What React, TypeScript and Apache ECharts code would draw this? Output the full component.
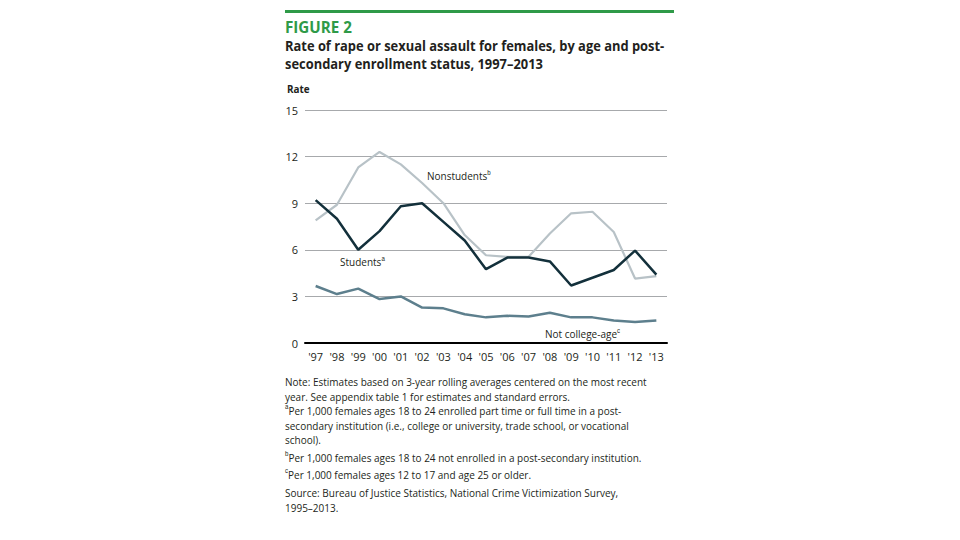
import React, { useEffect, useRef } from "react";
import * as echarts from "echarts";

const years = ["'97", "'98", "'99", "'00", "'01", "'02", "'03", "'04", "'05", "'06", "'07", "'08", "'09", "'10", "'11", "'12", "'13"];
const students = [9.2, 8.0, 6.0, 7.2, 8.8, 9.0, 7.8, 6.6, 4.75, 5.5, 5.5, 5.25, 3.7, 4.2, 4.7, 5.95, 4.4];
const nonstudents = [7.9, 8.9, 11.3, 12.3, 11.5, 10.3, 9.0, 6.95, 5.65, 5.55, 5.55, 7.05, 8.35, 8.45, 7.15, 4.15, 4.3];
const notCollegeAge = [3.67, 3.15, 3.5, 2.83, 3.0, 2.28, 2.23, 1.85, 1.65, 1.75, 1.7, 1.95, 1.65, 1.65, 1.45, 1.35, 1.45];
const yTicks = [0, 3, 6, 9, 12, 15];

const noteLines = [
  "Note: Estimates based on 3-year rolling averages centered on the most recent",
  "year. See appendix table 1 for estimates and standard errors.",
];

const FONT = "'Open Sans', sans-serif";
const GREEN = "#2f9a48";
const TXT = "#231f20";

export default function App() {
  const ref = useRef<HTMLDivElement>(null);
  useEffect(() => {
    if (!ref.current) return;
    const chart = echarts.init(ref.current, null, { renderer: "svg" });
    const small = 11.5;
    const nsx = 0.87;
    const sup = { fontSize: 7, verticalAlign: "top" as const, padding: [0, 0, 5, 0] };
    chart.setOption({
      animation: false,
      backgroundColor: "#ffffff",
      textStyle: { fontFamily: FONT },
      grid: { left: 305, right: 293, top: 110, bottom: 197 },
      xAxis: {
        type: "category",
        data: years,
        boundaryGap: true,
        axisLine: { show: true, lineStyle: { color: "#000", width: 2 } },
        axisTick: { show: false },
        axisLabel: { color: TXT, fontSize: 11, fontFamily: FONT, margin: 8 },
      },
      yAxis: {
        type: "value",
        min: 0,
        max: 15,
        interval: 3,
        axisLine: { show: false },
        axisTick: { show: false },
        splitLine: { lineStyle: { color: "#a7a9ac", width: 1 } },
        axisLabel: {
          color: TXT,
          fontSize: 11,
          fontFamily: FONT,
          margin: 7,
          formatter: (v: number) => (yTicks.includes(v) ? String(v) : ""),
        },
      },
      series: [
        {
          name: "Nonstudents",
          type: "line",
          data: nonstudents,
          symbol: "none",
          lineStyle: { color: "#b8c2c7", width: 2.2 },
          z: 2,
        },
        {
          name: "Not college-age",
          type: "line",
          data: notCollegeAge,
          symbol: "none",
          lineStyle: { color: "#5d7f8d", width: 2.5 },
          z: 3,
        },
        {
          name: "Students",
          type: "line",
          data: students,
          symbol: "none",
          lineStyle: { color: "#13303b", width: 2.5 },
          z: 4,
        },
      ],
      graphic: [
        { type: "rect", shape: { x: 285, y: 10, width: 389, height: 3 }, style: { fill: GREEN } },
        {
          type: "text", x: 285, y: 19, scaleX: 0.95,
          style: { text: "FIGURE 2", fill: GREEN, font: `bold 16px ${FONT}` },
        },
        {
          type: "text", x: 285, y: 36, scaleX: 0.89,
          style: {
            text: "Rate of rape or sexual assault for females, by age and post-\nsecondary enrollment status, 1997\u20132013",
            fill: TXT, font: `bold 14.5px ${FONT}`, lineHeight: 18,
          },
        },
        { type: "text", x: 287, y: 83, scaleX: 0.9, style: { text: "Rate", fill: TXT, font: `bold 11px ${FONT}` } },
        {
          type: "text", x: 427, y: 169, scaleX: nsx,
          style: { text: "Nonstudents{s|b}", fill: TXT, font: `11.5px ${FONT}`, rich: { s: sup } },
        },
        {
          type: "text", x: 340, y: 255, scaleX: nsx,
          style: { text: "Students{s|a}", fill: TXT, font: `11.5px ${FONT}`, rich: { s: sup } },
        },
        {
          type: "text", x: 545, y: 327, scaleX: nsx,
          style: { text: "Not college-age{s|c}", fill: TXT, font: `11.5px ${FONT}`, rich: { s: sup } },
        },
        {
          type: "text", x: 285, y: 374, scaleX: nsx,
          style: { text: noteLines.join("\n"), fill: TXT, font: `${small}px ${FONT}`, lineHeight: 14.5 },
        },
        {
          type: "text", x: 285, y: 403, scaleX: nsx,
          style: {
            text: "{s|a}Per 1,000 females ages 18 to 24 enrolled part time or full time in a post-\nsecondary institution (i.e., college or university, trade school, or vocational\nschool).",
            fill: TXT, font: `${small}px ${FONT}`, lineHeight: 14.5, rich: { s: sup },
          },
        },
        {
          type: "text", x: 285, y: 450, scaleX: nsx,
          style: {
            text: "{s|b}Per 1,000 females ages 18 to 24 not enrolled in a post-secondary institution.",
            fill: TXT, font: `${small}px ${FONT}`, lineHeight: 14.5, rich: { s: sup },
          },
        },
        {
          type: "text", x: 285, y: 467, scaleX: nsx,
          style: {
            text: "{s|c}Per 1,000 females ages 12 to 17 and age 25 or older.",
            fill: TXT, font: `${small}px ${FONT}`, lineHeight: 14.5, rich: { s: sup },
          },
        },
        {
          type: "text", x: 285, y: 485, scaleX: nsx,
          style: {
            text: "Source: Bureau of Justice Statistics, National Crime Victimization Survey,\n1995\u20132013.",
            fill: TXT, font: `${small}px ${FONT}`, lineHeight: 14.5,
          },
        },
      ],
    });
    return () => chart.dispose();
  }, []);
  return <div ref={ref} style={{ position: "fixed", left: 0, top: 0, width: 960, height: 540 }} />;
}
